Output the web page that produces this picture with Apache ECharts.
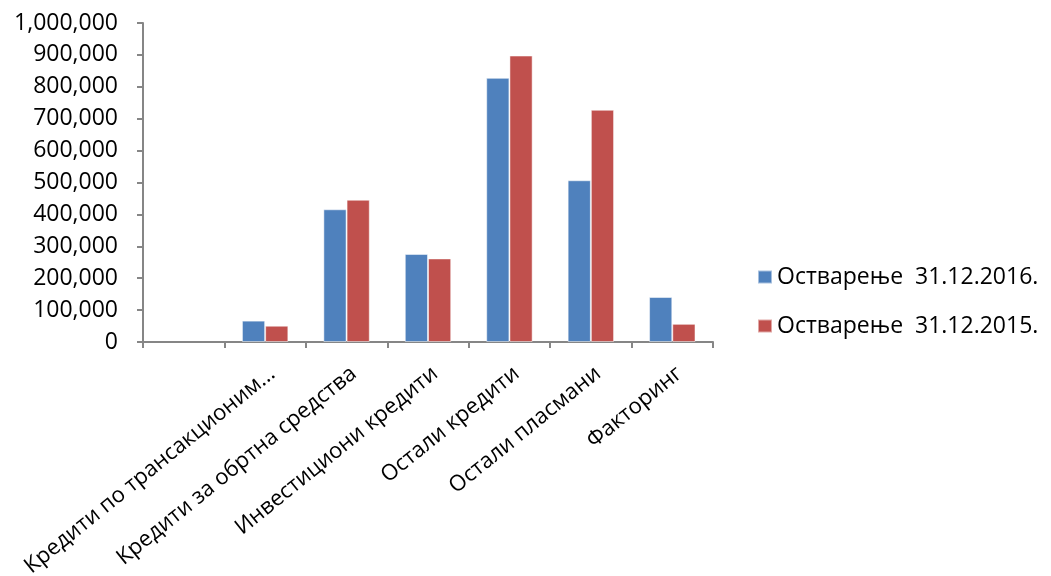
<!DOCTYPE html>
<html>
<head>
<meta charset="utf-8">
<script src="https://cdn.jsdelivr.net/npm/echarts@6/dist/echarts.min.js"></script>
<style>html,body{margin:0;padding:0;background:#fff;}#c{width:1051px;height:576px;}</style>
</head>
<body>
<div id="c"></div>
<script>
var categories = ['', 'Кредити по трансакционим...', 'Кредити за обртна средства', 'Инвестициони кредити', 'Остали кредити', 'Остали пласмани', 'Факторинг'];
var seriesNames = ['Остварење  31.12.2016.', 'Остварење  31.12.2015.'];
var values2016 = [null, 67000, 416000, 276000, 828000, 507000, 141000];
var values2015 = [null, 51000, 446000, 262000, 898000, 728000, 57000];
var yTicks = [0, 100000, 200000, 300000, 400000, 500000, 600000, 700000, 800000, 900000, 1000000];

var FONT = 'Open Sans';
var chart = echarts.init(document.getElementById('c'), null, {renderer: 'canvas'});
chart.setOption({
  animation: false,
  backgroundColor: '#ffffff',
  grid: {left: 143, right: 338, top: 23, bottom: 234, containLabel: false, outerBoundsMode: 'none'},
  legend: {
    orient: 'vertical',
    left: 752,
    top: 260,
    itemWidth: 14,
    itemHeight: 13,
    itemGap: 25,
    icon: 'rect',
    textStyle: {fontFamily: FONT, fontSize: 23, color: '#000', lineHeight: 24},
    data: seriesNames
  },
  xAxis: {
    type: 'category',
    data: categories,
    axisLine: {lineStyle: {color: '#868686', width: 2}},
    axisTick: {show: true, length: 6, lineStyle: {color: '#868686', width: 2}},
    axisLabel: {
      interval: 0, rotate: 39, margin: 20,
      fontFamily: FONT, fontSize: 22, color: '#000',
      verticalAlign: 'top', lineHeight: 23
    }
  },
  yAxis: {
    type: 'value',
    min: yTicks[0],
    max: yTicks[yTicks.length - 1],
    interval: yTicks[1] - yTicks[0],
    splitLine: {show: false},
    axisLine: {show: true, lineStyle: {color: '#868686', width: 2}},
    axisTick: {show: true, length: 6, lineStyle: {color: '#868686', width: 2}},
    axisLabel: {
      margin: 25, fontFamily: FONT, fontSize: 23, color: '#000',
      formatter: function (v) { return v.toString().replace(/\B(?=(\d{3})+(?!\d))/g, ','); }
    }
  },
  series: [
    {name: seriesNames[0], type: 'bar', data: values2016, barGap: '0%', barCategoryGap: '43%',
     itemStyle: {color: '#4F81BD', borderColor: 'rgba(255,255,255,0.5)', borderWidth: 1}},
    {name: seriesNames[1], type: 'bar', data: values2015, barGap: '0%', barCategoryGap: '43%',
     itemStyle: {color: '#C0504D', borderColor: 'rgba(255,255,255,0.5)', borderWidth: 1}}
  ]
});
</script>
</body>
</html>
